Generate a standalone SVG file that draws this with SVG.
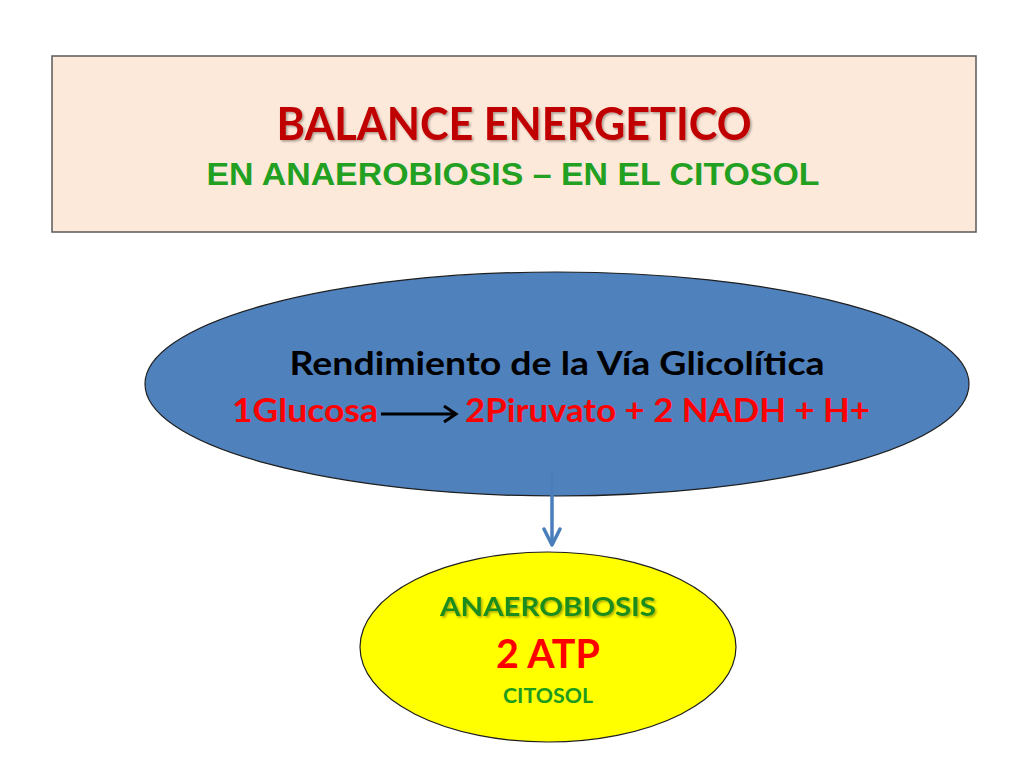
<svg xmlns="http://www.w3.org/2000/svg" width="1024" height="768" viewBox="0 0 1024 768">
<defs>
<style>
.cal{font-family:Lato,"Open Sans","Liberation Sans",sans-serif;font-weight:bold}
.ari{font-family:"Liberation Sans",Arial,sans-serif;font-weight:bold}
</style>
<filter id="sh" x="-5%" y="-20%" width="110%" height="150%">
<feDropShadow dx="1.5" dy="1.5" stdDeviation="1" flood-color="#000" flood-opacity="0.35"/>
</filter>
<marker id="ah" viewBox="0 0 20 20" refX="18" refY="10" markerWidth="20" markerHeight="20" markerUnits="userSpaceOnUse" orient="auto">
<path d="M2,2 L18,10 L2,18" fill="none" stroke="#4A7EBB" stroke-width="3.5" stroke-linecap="round" stroke-linejoin="round"/>
</marker>
</defs>
<rect width="1024" height="768" fill="#fff"/>
<g id="title">
<rect x="52" y="56" width="924" height="176" fill="#FDE9DA" stroke="#595959" stroke-width="1.5"/>
<text class="cal" x="514" y="140" font-size="46" fill="#C00000" text-anchor="middle" textLength="475" lengthAdjust="spacingAndGlyphs" filter="url(#sh)">BALANCE ENERGETICO</text>
<text class="ari" x="513" y="185" font-size="32" fill="#22A022" text-anchor="middle" textLength="613" lengthAdjust="spacingAndGlyphs">EN ANAEROBIOSIS – EN EL CITOSOL</text>
</g>
<g id="glicolisis">
<ellipse cx="557" cy="384" rx="412" ry="112" fill="#4F81BD" stroke="#1F1F1F" stroke-width="1.2"/>
<text class="cal" x="557" y="375" font-size="32" fill="#000" text-anchor="middle" textLength="535" lengthAdjust="spacingAndGlyphs">Rendimiento de la Vía Glicolítica</text>
<text class="cal" x="232" y="422" font-size="32" fill="#FF0000" textLength="146" lengthAdjust="spacingAndGlyphs">1Glucosa</text>
<path d="M381,414 L455,414 M444,406 L456,414 L444,422" fill="none" stroke="#000" stroke-width="3" stroke-linejoin="miter"/>
<text class="cal" x="465" y="422" font-size="32" fill="#FF0000" textLength="405" lengthAdjust="spacingAndGlyphs">2Piruvato + 2 NADH + H+</text>
</g>
<g id="connectors">
<line x1="552" y1="472" x2="552" y2="545" stroke="#4A7EBB" stroke-width="3.5" marker-end="url(#ah)"/>
</g>
<g id="anaerobiosis">
<ellipse cx="548" cy="647" rx="188" ry="95" fill="#FFFF00" stroke="#1F1F1F" stroke-width="1.2"/>
<text class="cal" x="548" y="616" font-size="27" fill="#1E8C1E" text-anchor="middle" textLength="216" lengthAdjust="spacingAndGlyphs" filter="url(#sh)">ANAEROBIOSIS</text>
<text class="cal" x="548" y="668" font-size="40" fill="#FF0000" text-anchor="middle" textLength="104" lengthAdjust="spacingAndGlyphs">2 ATP</text>
<text class="cal" x="548" y="703" font-size="21" fill="#1E9A1E" text-anchor="middle" textLength="90" lengthAdjust="spacingAndGlyphs">CITOSOL</text>
</g>
</svg>
